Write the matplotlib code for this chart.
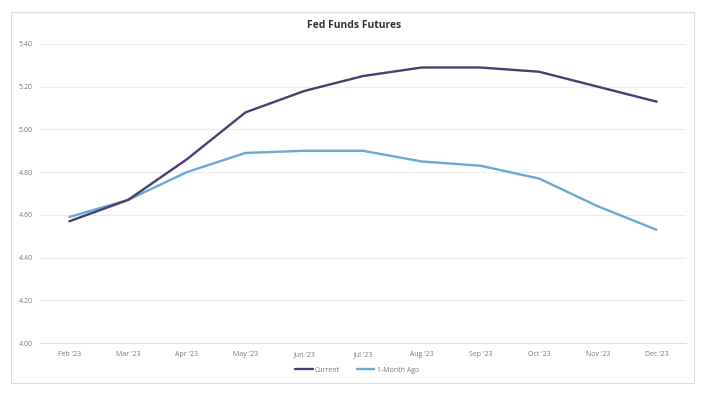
import numpy as np
import matplotlib
matplotlib.use("Agg")
import matplotlib.pyplot as plt
from matplotlib.patches import Rectangle

# Data
months = ["Feb '23", "Mar '23", "Apr '23", "May '23", "Jun '23", "Jul '23",
          "Aug '23", "Sep '23", "Oct '23", "Nov '23", "Dec '23"]
current = [4.57, 4.67, 4.86, 5.08, 5.18, 5.25, 5.29, 5.29, 5.27, 5.20, 5.13]
month_ago = [4.59, 4.67, 4.80, 4.89, 4.90, 4.90, 4.85, 4.83, 4.77, 4.64, 4.53]
yticks = [4.00, 4.20, 4.40, 4.60, 4.80, 5.00, 5.20, 5.40]

plt.rcParams['font.family'] = ['Open Sans', 'DejaVu Sans']

fig = plt.figure(figsize=(7.04, 3.95), dpi=100)
fig.patch.set_facecolor('white')

# light frame round the chart area
fig.patches.append(Rectangle((11/704, 1 - 383/395), 683/704, 371/395,
                             transform=fig.transFigure, fill=False,
                             edgecolor='#dcdcdc', linewidth=0.8))

ax = fig.add_axes([40/704, 1 - 343/395, 646/704, 299/395])
x = np.arange(len(months))
ax.plot(x, current, color='#4b3d72', linewidth=1.7, label='Current',
        solid_capstyle='round', zorder=3)
ax.plot(x, month_ago, color='#6aa9d6', linewidth=1.7, label='1-Month Ago',
        solid_capstyle='round', zorder=2)

ax.set_xlim(-0.5, len(months) - 0.5)
ax.set_ylim(4.0, 5.4)
ax.set_yticks(yticks)
ax.set_yticklabels([f"{v:.2f}" for v in yticks])
ax.set_xticks(x)
ax.set_xticklabels(months)
ax.tick_params(axis='both', length=0, labelsize=5, labelcolor='#7a7a7a')
ax.tick_params(axis='x', pad=6)
ax.tick_params(axis='y', pad=5)

ax.grid(axis='y', color='#ececec', linewidth=0.8)
ax.set_axisbelow(True)
for s in ['top', 'right', 'left']:
    ax.spines[s].set_visible(False)
ax.spines['bottom'].set_color('#e0e0e0')
ax.spines['bottom'].set_linewidth(0.8)

fig.text(354/704, 1 - 26/395, 'Fed Funds Futures', ha='center', va='center',
         fontsize=7.5, fontweight='bold', color='#333333')

fig.legend(loc='center', bbox_to_anchor=(357/704, 1 - 370/395), ncol=2,
           frameon=False, fontsize=5, labelcolor='#7a7a7a',
           handlelength=2.5, columnspacing=2.5, handletextpad=0.3)

fig.savefig('out.png', dpi=100, facecolor='white')
